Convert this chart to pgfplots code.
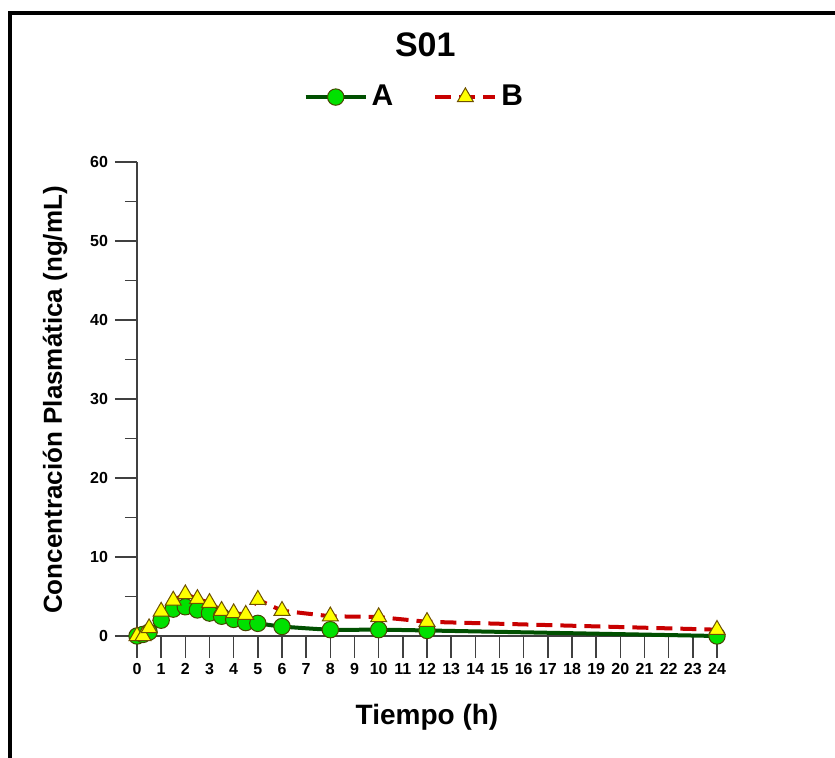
\documentclass[border=0pt]{standalone}
\usepackage{pgfplots}
\pgfplotsset{compat=1.18}
\usepackage{fontspec}
\setmainfont{Liberation Sans}
\definecolor{lineA}{RGB}{0,80,0}
\definecolor{fillA}{RGB}{0,225,0}
\definecolor{edgeA}{RGB}{70,70,0}
\definecolor{lineB}{RGB}{200,0,0}
\definecolor{fillB}{RGB}{255,255,0}
\definecolor{edgeB}{RGB}{110,80,0}
\begin{document}
\begin{tikzpicture}
\begin{scope}[x=0.5pt,y=-0.5pt]
\clip (0,0) rectangle (835,758);
\draw[line width=1.6pt,black] (10,13) rectangle (900,800);
\end{scope}
\begin{axis}[
  at={(68.5pt,-318pt)}, anchor=south west,
  scale only axis, width=290pt, height=237pt,
  xmin=0, xmax=24, ymin=0, ymax=60,
  axis x line=bottom, axis y line=left,
  axis line style={black!75, line width=0.9pt, -},
  clip=false,
  xtick={0,1,...,24},
  ytick={0,10,...,60},
  minor ytick={5,15,...,55},
  tick align=outside,
  major tick length=11pt,
  minor tick length=6pt,
  tick style={black!75, line width=0.7pt},
  ticklabel style={font=\fontsize{8}{9}\selectfont\bfseries},
  /pgf/number format/assume math mode=true,
  xticklabel style={yshift=1pt},
  title={S01},
  title style={font=\fontsize{17}{20}\selectfont\bfseries, at={(axis description cs:0.497,1.222)}, anchor=center},
  xlabel={Tiempo (h)},
  ylabel={Concentración Plasmática (ng/mL)},
  every axis x label/.style={at={(axis description cs:0.5,-0.171)}, anchor=center, font=\fontsize{14}{17}\selectfont\bfseries},
  every axis y label/.style={at={(axis description cs:-0.141,0.498)}, anchor=center, rotate=90, font=\fontsize{13}{16}\selectfont\bfseries},
  legend columns=2,
  legend style={at={(axis description cs:0.48,1.137)}, anchor=center, draw=none, fill=none,
    font=\fontsize{15}{18}\selectfont\bfseries,
    /tikz/every even column/.append style={column sep=18pt}},
  legend image code/.code={\draw[mark repeat=2,mark phase=2] plot coordinates {(0pt,0pt)(15pt,0pt)(30pt,0pt)};},
]
\addplot[color=lineA, line width=2pt, smooth, tension=0.4,
  mark=*, mark size=4.1pt, mark options={solid, fill=fillA, draw=edgeA, line width=0.5pt}]
  coordinates {(0,0)(0.25,0.2)(0.5,0.5)(1,2.0)(1.5,3.4)(2,3.7)(2.5,3.3)(3,2.9)(3.5,2.5)(4,2.1)(4.5,1.7)(5,1.6)(6,1.2)(8,0.8)(10,0.8)(12,0.7)(24,0)};
\addlegendentry{A}
\addplot[color=lineB, line width=2pt, dash pattern=on 8pt off 4pt,
  mark=triangle*, mark size=4.6pt, mark options={solid, fill=fillB, draw=edgeB, line width=0.5pt}]
  coordinates {(0,0)(0.25,0)(0.5,1.0)(1,3.1)(1.5,4.5)(2,5.3)(2.5,4.7)(3,4.2)(3.5,3.2)(4,2.9)(4.5,2.7)(5,4.6)(6,3.2)(8,2.5)(10,2.4)(12,1.8)(24,0.8)};
\addlegendentry{B}
\end{axis}
\pgfresetboundingbox
\useasboundingbox (0,0) rectangle (417.5pt,-379pt);
\end{tikzpicture}
\end{document}
